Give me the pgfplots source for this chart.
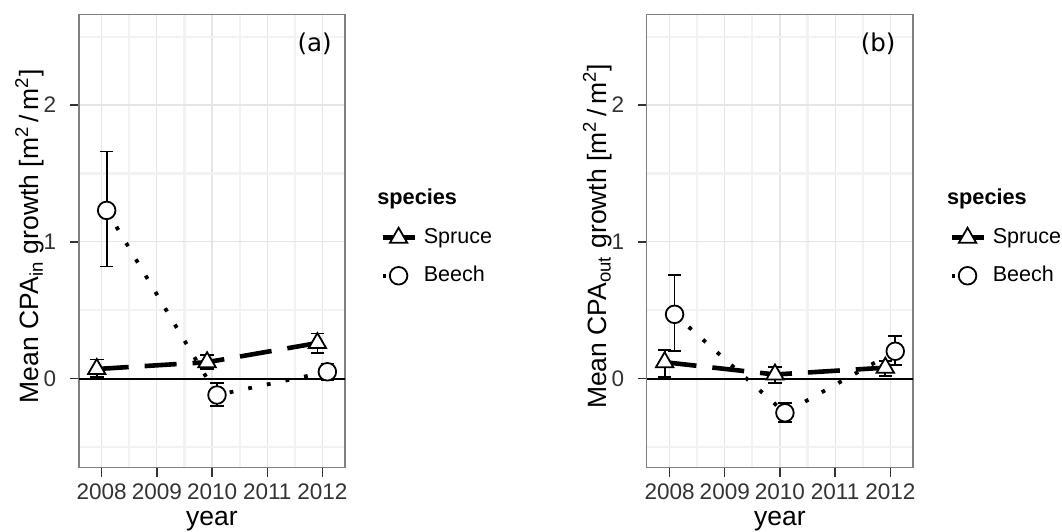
\documentclass[border=0pt]{standalone}
\usepackage{fontspec}
\setmainfont{Liberation Sans}
\newfontfamily\djv{DejaVu Sans}
\usepackage{pgfplots}
\usepackage{pgfplotstable}
\pgfplotsset{compat=1.18}
\definecolor{gridmaj}{HTML}{E5E5E5}
\definecolor{gridmin}{HTML}{F2F2F2}
\definecolor{bordercol}{HTML}{808080}

% x (dodged year), y (mean), ep (error plus), em (error minus)
\pgfplotstableread{
x y ep em
2007.91 0.07 0.07 0.06
2009.91 0.12 0.05 0.05
2011.91 0.26 0.07 0.07
}\spruceA
\pgfplotstableread{
x y ep em
2008.09 1.23 0.43 0.41
2010.09 -0.12 0.09 0.08
2012.09 0.05 0.06 0.06
}\beechA
\pgfplotstableread{
x y ep em
2007.91 0.12 0.09 0.11
2009.91 0.03 0.055 0.06
2011.91 0.08 0.05 0.06
}\spruceB
\pgfplotstableread{
x y ep em
2008.09 0.47 0.29 0.27
2010.09 -0.25 0.07 0.07
2012.09 0.20 0.11 0.10
}\beechB

\pgfplotsset{
  spruceline/.style={black, line width=2.3bp, dash pattern=on 16bp off 8bp},
  beechline/.style={black, line width=1.9bp, dash pattern=on 1.9bp off 7.6bp},
  sprucemark/.style={mark=triangle*, mark size=5bp, mark options={fill=white, draw=black, line width=0.9bp, solid}},
  beechmark/.style={mark=*, mark size=4.4bp, mark options={fill=white, draw=black, line width=0.9bp, solid}},
  errs/.style={error bars/.cd, y dir=both, y explicit,
      error bar style={black, line width=0.9bp, solid},
      error mark options={black, line width=0.9bp, mark size=3.4bp, rotate=90}},
  panel/.style={
    width=133.1bp, height=226.6bp, scale only axis, clip=false,
    xmin=2007.585, xmax=2012.41, ymin=-0.65, ymax=2.664,
    xtick={2008,2009,2010,2011,2012},
    xticklabels={2008,2009,2010,2011,2012},
    minor xtick={2008.5,2009.5,2010.5,2011.5},
    ytick={0,1,2}, minor ytick={-0.5,0.5,1.5,2.5},
    grid=both,
    major grid style={gridmaj, line width=0.6bp},
    minor grid style={gridmin, line width=1.1bp},
    axis line style={bordercol, line width=0.7bp},
    tick align=outside, tick pos=left,
    major tick style={black!80, line width=0.7bp},
    major tick length=4.5bp, minor tick length=0pt,
    /pgf/number format/assume math mode=true,
    ticklabel style={font=\fontsize{11.3}{13}\selectfont, text=black!80},
    yticklabel style={inner xsep=6.6bp},
    label style={font=\fontsize{13.3}{15}\selectfont},
    xlabel={year},
    xlabel style={at={(axis description cs:0.5,-0.118)}, anchor=center},
    ylabel style={at={(axis description cs:-0.185,0.51)}, anchor=center},
    legend style={draw=none, fill=none, at={(axis description cs:1.131,0.465)}, anchor=west,
      inner sep=0pt, row sep=8.5bp, column sep=3.5bp,
      font=\fontsize{10.8}{12}\selectfont,
      nodes={inner sep=0pt, text height=8bp, text depth=2.5bp}},
    legend cell align=left,
    legend image code/.code={\draw[mark repeat=2, mark phase=2, ##1] plot coordinates {(0bp,0bp) (8bp,0bp) (16bp,0bp)};},
  }
}

\begin{document}
\begin{tikzpicture}
\useasboundingbox (0,0) rectangle (531bp,266bp);

% ---------- panel (a)
\begin{axis}[panel, at={(39.4bp,32.25bp)}, anchor=south west,
  ylabel={Mean CPA\textsubscript{in} growth [m\textsuperscript{2}\,/\,m\textsuperscript{2}]}]
\addplot[black, line width=1bp, forget plot] coordinates {(2007.585,0) (2012.41,0)};
\addplot[spruceline, forget plot] table[x=x, y=y] {\spruceA};
\addplot[beechline, forget plot] table[x=x, y=y] {\beechA};
\addplot[beechmark, only marks, forget plot, errs] table[x=x, y=y, y error plus=ep, y error minus=em] {\beechA};
\addplot[sprucemark, only marks, forget plot, errs] table[x=x, y=y, y error plus=ep, y error minus=em] {\spruceA};
\addlegendimage{spruceline, sprucemark}
\addlegendentry{Spruce}
\addlegendimage{beechline, beechmark}
\addlegendentry{Beech}
\node[font=\djv\fontsize{12.3}{14}\selectfont] at (axis cs:2011.86,2.447) {(a)};
\node[anchor=west, inner sep=0pt, font=\bfseries\fontsize{10.9}{12}\selectfont] at (axis description cs:1.120,0.5925) {species};
\end{axis}

% ---------- panel (b)
\begin{axis}[panel, at={(323.35bp,32.25bp)}, anchor=south west,
  ylabel={Mean CPA\textsubscript{out} growth [m\textsuperscript{2}\,/\,m\textsuperscript{2}]},
  legend style={at={(axis description cs:1.135,0.465)}}]
\addplot[black, line width=1bp, forget plot] coordinates {(2007.585,0) (2012.41,0)};
\addplot[spruceline, forget plot] table[x=x, y=y] {\spruceB};
\addplot[beechline, forget plot] table[x=x, y=y] {\beechB};
\addplot[beechmark, only marks, forget plot, errs] table[x=x, y=y, y error plus=ep, y error minus=em] {\beechB};
\addplot[sprucemark, only marks, forget plot, errs] table[x=x, y=y, y error plus=ep, y error minus=em] {\spruceB};
\addlegendimage{spruceline, sprucemark}
\addlegendentry{Spruce}
\addlegendimage{beechline, beechmark}
\addlegendentry{Beech}
\node[font=\djv\fontsize{12.3}{14}\selectfont] at (axis cs:2011.78,2.447) {(b)};
\node[anchor=west, inner sep=0pt, font=\bfseries\fontsize{10.9}{12}\selectfont] at (axis description cs:1.127,0.5925) {species};
\end{axis}
\end{tikzpicture}
\end{document}
